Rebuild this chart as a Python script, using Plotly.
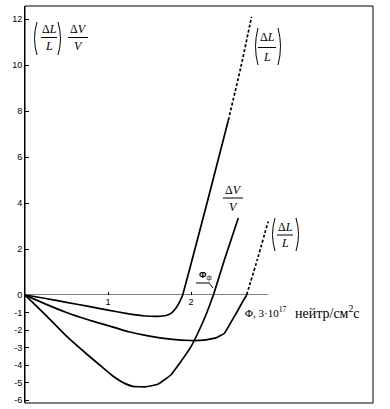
import plotly.graph_objects as go

# ---- data ----
# curve 1: (ΔL/L), small dip, steep rise (upper label)
x_dl1 = [0, 0.25, 0.5, 0.75, 1.0, 1.25, 1.45, 1.6, 1.7, 1.76, 1.81, 1.86, 1.9, 2.0, 2.2, 2.45, 2.6, 2.73]
y_dl1 = [0, -0.2, -0.42, -0.64, -0.86, -1.08, -1.2, -1.22, -1.17, -1.05, -0.8, -0.42, 0, 1.35, 4.1, 7.6, 9.9, 12.1]
dash_from_dl1 = 2.45

# curve 2: (ΔL/L), medium dip (lower-right label)
x_dl2 = [0, 0.25, 0.5, 0.75, 1.0, 1.25, 1.5, 1.75, 2.0, 2.15, 2.3, 2.4, 2.47, 2.55, 2.62, 2.67, 2.8, 2.93]
y_dl2 = [0, -0.52, -1.0, -1.4, -1.75, -2.1, -2.35, -2.52, -2.6, -2.58, -2.45, -2.2, -1.65, -1.0, -0.4, 0, 1.55, 3.2]
dash_from_dl2 = 2.67

# curve 3: ΔV/V, deep dip
x_dv = [0, 0.25, 0.5, 0.75, 0.9, 1.05, 1.2, 1.3, 1.45, 1.6, 1.75, 1.87, 2.0, 2.1, 2.2, 2.27, 2.4, 2.57]
y_dv = [0, -1.15, -2.35, -3.4, -4.0, -4.6, -5.05, -5.22, -5.25, -5.1, -4.6, -3.85, -2.95, -2.0, -0.9, 0, 1.5, 3.35]

x_ticks = [1, 2]
y_ticks_pos = [2, 4, 6, 8, 10, 12]
y_ticks_neg = [0, -1, -2, -3, -4, -5, -6]
x_axis_end = 2.93

# ---- layout geometry ----
W, H = 390, 409
L, R, T, B = 25, 373, 6, 403
ZERO_PX = 295
lower_frac = (B - ZERO_PX) / (B - T)

def PX(px):
    return (px - L) / (R - L)

def PY(py):
    return (B - py) / (B - T)

fig = go.Figure()
LW = 1.7

def add_curve(xs, ys, dash_from=None):
    if dash_from is None:
        parts = [(xs, ys, "solid")]
    else:
        i = xs.index(dash_from)
        parts = [(xs[:i + 1], ys[:i + 1], "solid"), (xs[i:], ys[i:], "3px,2px")]
    for px_, py_, d in parts:
        for xa, ya in (("x", "y"), ("x2", "y2")):
            fig.add_trace(go.Scatter(x=px_, y=py_, mode="lines", xaxis=xa, yaxis=ya,
                                     line=dict(color="black", width=LW, dash=d, shape="spline", smoothing=0.3),
                                     hoverinfo="skip", showlegend=False))

add_curve(x_dl1, y_dl1, dash_from_dl1)
add_curve(x_dl2, y_dl2, dash_from_dl2)
add_curve(x_dv, y_dv)

xr = [0, (R - L) / 83.0]
upper_top = (ZERO_PX - T) / 23.0
lower_bot = -(B - ZERO_PX) / 17.5

tickfont = dict(family="Liberation Sans", size=9, color="black")
fig.update_layout(
    width=W, height=H, margin=dict(l=L, r=W - R, t=T, b=H - B, autoexpand=False),
    paper_bgcolor="white", plot_bgcolor="white", showlegend=False,
    xaxis=dict(domain=[0, 1], range=xr, visible=False, anchor="y", automargin=False),
    yaxis=dict(domain=[0, lower_frac], range=[lower_bot, 0], anchor="x", automargin=False,
               tickvals=y_ticks_neg, ticktext=[str(v) for v in y_ticks_neg],
               ticks="inside", ticklen=4, tickwidth=1, tickcolor="black",
               showline=True, linecolor="black", linewidth=1, showgrid=False, zeroline=False,
               tickfont=tickfont),
    xaxis2=dict(domain=[0, 1], range=xr, anchor="y2", matches="x", automargin=False,
                tickvals=x_ticks, ticktext=[str(v) for v in x_ticks],
                ticks="inside", ticklen=3, tickwidth=1, tickcolor="black",
                showline=False, showgrid=False, zeroline=False, tickfont=tickfont),
    yaxis2=dict(domain=[lower_frac, 1], range=[0, upper_top], anchor="x2", automargin=False,
                tickvals=y_ticks_pos, ticktext=[str(v) for v in y_ticks_pos],
                ticks="inside", ticklen=4, tickwidth=1, tickcolor="black",
                showline=True, linecolor="black", linewidth=1, showgrid=False, zeroline=False,
                tickfont=tickfont),
)

shapes = []
# frame
shapes.append(dict(type="rect", xref="paper", yref="paper", x0=0, x1=1, y0=0, y1=1,
                   line=dict(color="black", width=1)))
# x axis line
shapes.append(dict(type="line", xref="x2", yref="y2", x0=0, x1=x_axis_end, y0=0, y1=0,
                   line=dict(color="black", width=1)))

annotations = []
SERIF = "Liberation Serif"

def txt(px, py, text, size=12, family=SERIF, xanchor="center"):
    annotations.append(dict(x=PX(px), y=PY(py), xref="paper", yref="paper", text=text,
                            showarrow=False, xanchor=xanchor, yanchor="middle",
                            font=dict(family=family, size=size, color="black")))

def hline(x0, x1, py, w=1):
    shapes.append(dict(type="line", xref="paper", yref="paper", x0=PX(x0), x1=PX(x1),
                       y0=PY(py), y1=PY(py), line=dict(color="black", width=w)))

def paren(px, ytop, ybot, left=True):
    ym = (ytop + ybot) / 2
    bulge = -5 if left else 5
    path = "M {} {} Q {} {} {} {}".format(PX(px), PY(ytop), PX(px + bulge), PY(ym), PX(px), PY(ybot))
    shapes.append(dict(type="path", xref="paper", yref="paper", path=path,
                       line=dict(color="black", width=1)))

def frac(cx, num, den, ytop, ybar, ybot, half, size=12):
    txt(cx, ytop, num, size=size)
    hline(cx - half, cx + half, ybar)
    txt(cx, ybot, den, size=size)

# top-left axis label
paren(37, 22, 55, True)
frac(49, "Δ<i>L</i>", "<i>L</i>", 29, 37.5, 46.5, 8)
paren(58, 22, 55, False)
frac(78, "Δ<i>V</i>", "<i>V</i>", 29, 37.5, 46.5, 10)

# upper-right (ΔL/L)
paren(258, 28, 65, True)
frac(267, "Δ<i>L</i>", "<i>L</i>", 37, 47.5, 57, 9)
paren(278, 28, 65, False)

# middle ΔV/V
frac(233, "Δ<i>V</i>", "<i>V</i>", 190, 198, 207, 10)

# lower-right (ΔL/L)
paren(275, 218, 251, True)
frac(285, "Δ<i>L</i>", "<i>L</i>", 227, 235, 243, 8)
paren(296, 218, 251, False)

# Φф marker
txt(205, 276, "<b>Φ</b><sub>ф</sub>", size=9, family="Liberation Sans")
shapes.append(dict(type="path", xref="paper", yref="paper",
                   path="M {} {} L {} {} L {} {}".format(PX(196), PY(283), PX(209), PY(283), PX(213), PY(288)),
                   line=dict(color="black", width=1)))

# x-axis title
txt(243, 312, "Φ, 3·10<sup>17</sup>", size=11, xanchor="left")
txt(293, 312, "нейтр/см<sup>2</sup>с", size=14, xanchor="left")

fig.update_layout(shapes=shapes, annotations=annotations)
fig.write_html("out.html", config={"displayModeBar": False},
               post_script="document.body.style.margin='0px';")
